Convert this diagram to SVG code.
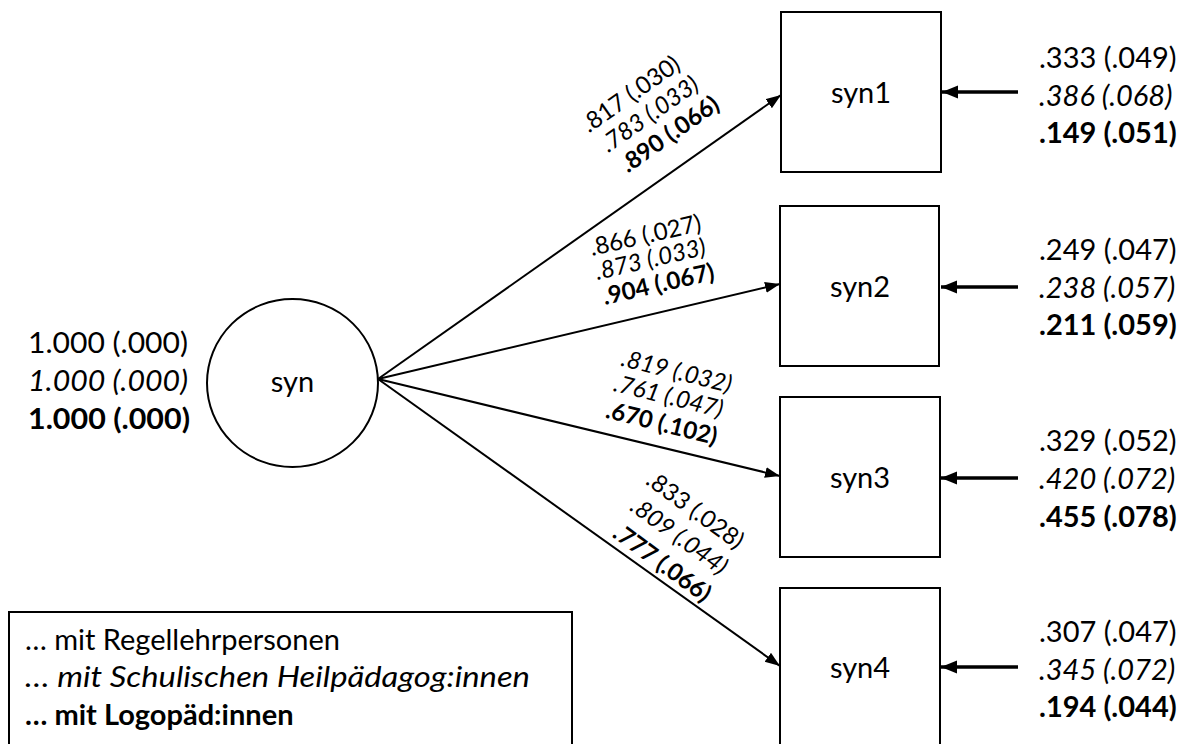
<svg xmlns="http://www.w3.org/2000/svg" width="1193" height="744" viewBox="0 0 1193 744">
  <style>
    text { font-family: Lato, "Open Sans", "Liberation Sans", sans-serif; fill: #000; }
    .big { font-size: 29px; }
    .small { font-size: 24px; }
    .it { font-style: italic; }
    .bd { font-weight: bold; }
    .node { fill: #fff; stroke: #000; stroke-width: 2; }
    .path { stroke: #000; stroke-width: 2; fill: none; marker-end: url(#head); }
    .resid { stroke: #000; stroke-width: 3.4; fill: none; marker-end: url(#headBig); }
  </style>
  <defs>
    <marker id="head" markerUnits="userSpaceOnUse" markerWidth="16" markerHeight="12" refX="15" refY="5.5" orient="auto">
      <path d="M0,0 L15,5.5 L0,11 Z" fill="#000"/>
    </marker>
    <marker id="headBig" markerUnits="userSpaceOnUse" markerWidth="18" markerHeight="14" refX="16" refY="6.5" orient="auto">
      <path d="M0,0 L16,6.5 L0,13 Z" fill="#000"/>
    </marker>
  </defs>
  <rect width="1193" height="744" fill="#fff"/>

  <!-- connectors -->
  <g id="connectors">
    <line class="path" x1="378" y1="379" x2="781" y2="95"/>
    <line class="path" x1="378" y1="379" x2="780" y2="284"/>
    <line class="path" x1="378" y1="379" x2="780" y2="476"/>
    <line class="path" x1="378" y1="379" x2="780" y2="666"/>
    <line class="resid" x1="1018" y1="92" x2="942" y2="92"/>
    <line class="resid" x1="1018" y1="287" x2="941" y2="287"/>
    <line class="resid" x1="1018" y1="478" x2="941" y2="478"/>
    <line class="resid" x1="1018" y1="667" x2="941" y2="667"/>
  </g>

  <!-- loading labels along the paths -->
  <g id="loadings" class="small" text-anchor="middle" dominant-baseline="central">
    <text transform="translate(630,93) rotate(-35)">.817 (.030)</text>
    <text class="it" transform="translate(649,113) rotate(-35)">.783 (.033)</text>
    <text class="bd" transform="translate(669,133) rotate(-35)">.890 (.066)</text>

    <text transform="translate(645,234) rotate(-13)">.866 (.027)</text>
    <text class="it" transform="translate(650,258) rotate(-13)">.873 (.033)</text>
    <text class="bd" transform="translate(658,283) rotate(-13)">.904 (.067)</text>

    <text class="it" transform="translate(677,370) rotate(14)">.819 (.032)</text>
    <text class="it" transform="translate(669,395) rotate(14)">.761 (.047)</text>
    <text class="bd" transform="translate(662,422) rotate(14)">.670 (.102)</text>

    <text transform="translate(696,509) rotate(36)">.833 (.028)</text>
    <text class="it" transform="translate(680,535) rotate(36)">.809 (.044)</text>
    <text class="bd" transform="translate(663,562) rotate(36)">.777 (.066)</text>
  </g>

  <!-- latent factor -->
  <g id="syn">
    <ellipse class="node" cx="292.5" cy="383" rx="85.5" ry="84"/>
    <text class="big" x="292.5" y="392" text-anchor="middle">syn</text>
    <text class="big" x="28" y="353" textLength="160" lengthAdjust="spacingAndGlyphs">1.000 (.000)</text>
    <text class="big it" x="28" y="391" textLength="160" lengthAdjust="spacingAndGlyphs">1.000 (.000)</text>
    <text class="big bd" x="28" y="429" textLength="162" lengthAdjust="spacingAndGlyphs">1.000 (.000)</text>
  </g>

  <!-- indicators -->
  <g id="syn1">
    <rect class="node" x="781" y="12" width="160" height="160"/>
    <text class="big" x="861" y="103" text-anchor="middle">syn1</text>
    <text class="big" x="1039" y="68">.333 (.049)</text>
    <text class="big it" x="1039" y="106">.386 (.068)</text>
    <text class="big bd" x="1039" y="143">.149 (.051)</text>
  </g>
  <g id="syn2">
    <rect class="node" x="780" y="206" width="159" height="160"/>
    <text class="big" x="860" y="297" text-anchor="middle">syn2</text>
    <text class="big" x="1039" y="260">.249 (.047)</text>
    <text class="big it" x="1039" y="298">.238 (.057)</text>
    <text class="big bd" x="1039" y="335">.211 (.059)</text>
  </g>
  <g id="syn3">
    <rect class="node" x="780" y="397" width="160" height="160"/>
    <text class="big" x="860" y="488" text-anchor="middle">syn3</text>
    <text class="big" x="1039" y="451">.329 (.052)</text>
    <text class="big it" x="1039" y="489">.420 (.072)</text>
    <text class="big bd" x="1039" y="527">.455 (.078)</text>
  </g>
  <g id="syn4">
    <rect class="node" x="780" y="588" width="160" height="170"/>
    <text class="big" x="860" y="678" text-anchor="middle">syn4</text>
    <text class="big" x="1039" y="642">.307 (.047)</text>
    <text class="big it" x="1039" y="680">.345 (.072)</text>
    <text class="big bd" x="1039" y="717">.194 (.044)</text>
  </g>

  <!-- legend -->
  <g id="legend">
    <rect class="node" x="9" y="612" width="563" height="146"/>
    <text class="big" x="25" y="650">… mit Regellehrpersonen</text>
    <text class="big it" x="25" y="687" textLength="505" lengthAdjust="spacingAndGlyphs">… mit Schulischen Heilpädagog:innen</text>
    <text class="big bd" x="25" y="725">… mit Logopäd:innen</text>
  </g>
</svg>
